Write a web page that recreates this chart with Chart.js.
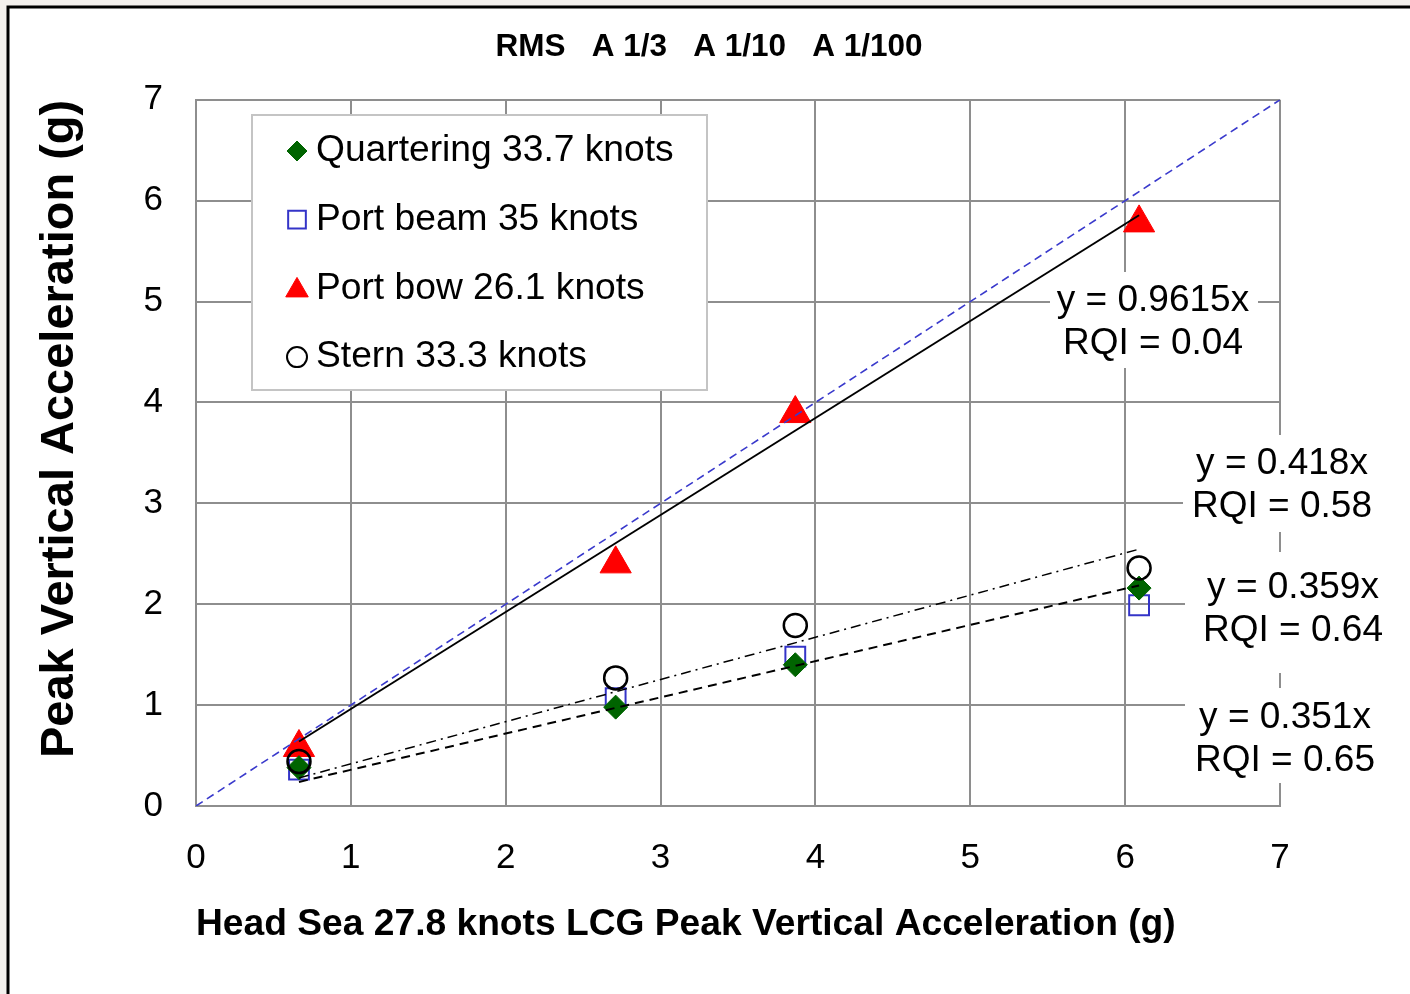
<!DOCTYPE html>
<html><head><meta charset="utf-8">
<script src="https://cdn.jsdelivr.net/npm/chart.js@4.4.0/dist/chart.umd.min.js"></script>
<style>html,body{margin:0;padding:0;background:#f4f1ee;overflow:hidden}</style>
</head><body>
<canvas id="c" width="1410" height="994" style="display:block;width:1410px;height:994px"></canvas>
<script>
// ---- data ----
const headSeaX   = [0.665, 2.71, 3.87, 6.09];
const quartering = [0.38, 0.98, 1.40, 2.16];
const portBeam   = [0.36, 1.07, 1.48, 1.99];
const portBow    = [0.58, 2.40, 3.89, 5.78];
const stern      = [0.44, 1.27, 1.79, 2.36];
const seriesLabels = ['Quartering 33.7 knots', 'Port beam 35 knots', 'Port bow 26.1 knots', 'Stern 33.3 knots'];
const fitSlopes = [0.359, 0.351, 0.9615, 0.418];
const fitRQI    = [0.64, 0.65, 0.04, 0.58];
const axisTicks = [0, 1, 2, 3, 4, 5, 6, 7];
const chartTitle = 'RMS   A 1/3   A 1/10   A 1/100';
const xTitle = 'Head Sea 27.8 knots LCG Peak Vertical Acceleration (g)';
const yTitle = 'Peak Vertical Acceleration (g)';

// ---- styling / layout ----
const FONT = 'Liberation Sans, Arial, sans-serif';
Chart.defaults.font.family = FONT;
Chart.defaults.color = '#000';
const GRID = '#8e8e8e';
const fitLabelBoxes = [
  {cx: 1293, cy: 609, bx: 1185, by: 552, bw: 212, bh: 121},
  {cx: 1285, cy: 739, bx: 1185, by: 688, bw: 200, bh: 95},
  {cx: 1153, cy: 322, bx: 1050, by: 272, bw: 208, bh: 96},
  {cx: 1282, cy: 485, bx: 1183, by: 435, bw: 197, bh: 97}
];
const legendBox = {x: 252, y: 115, w: 455, h: 275, firstY: 151, step: 68.7, markerX: 297, textX: 316};

const pts = arr => headSeaX.map((x, i) => ({x: x, y: arr[i]}));
const xMin = Math.min(...headSeaX), xMax = Math.max(...headSeaX);
const fitLine = slope => [{x: xMin, y: slope * xMin}, {x: xMax, y: slope * xMax}];
const lo = axisTicks[0], hi = axisTicks[axisTicks.length - 1];

const series = [
  {label: seriesLabels[0], data: pts(quartering), pointStyle: 'rectRot', pointRadius: 12,
   backgroundColor: '#006400', borderColor: '#006400', borderWidth: 1, order: 2, legendR: 10},
  {label: seriesLabels[1], data: pts(portBeam), pointStyle: 'rect', pointRadius: 14,
   backgroundColor: 'rgba(0,0,0,0)', borderColor: '#3434c8', borderWidth: 2, order: 3, legendR: 12.5},
  {label: seriesLabels[2], data: pts(portBow), pointStyle: 'triangle', pointRadius: 18,
   backgroundColor: '#ff0000', borderColor: '#ff0000', borderWidth: 1, order: 4, legendR: 13},
  {label: seriesLabels[3], data: pts(stern), pointStyle: 'circle', pointRadius: 11.5,
   backgroundColor: 'rgba(0,0,0,0)', borderColor: '#000', borderWidth: 2.5, order: 1, legendR: 10}
];
series.forEach(s => { s.showLine = false; s.pointHoverRadius = s.pointRadius; s.isSeries = true; });

const lines = [
  {data: [{x: lo, y: lo}, {x: hi, y: hi}], borderColor: '#3a3acc', borderWidth: 1.6, borderDash: [8, 5]},
  {data: fitLine(fitSlopes[2]), borderColor: '#000', borderWidth: 2, borderDash: []},
  {data: fitLine(fitSlopes[3]), borderColor: '#000', borderWidth: 1.5, borderDash: [10, 5, 2, 5]},
  {data: fitLine(fitSlopes[0]), borderColor: '#000', borderWidth: 2, borderDash: [9, 6]}
];
lines.forEach(l => { l.showLine = true; l.pointRadius = 0; l.pointHoverRadius = 0; l.fill = false; l.order = 0; l.label = ''; });

function drawMarker(ctx, style, x, y, r, fill, stroke, lw) {
  ctx.save();
  ctx.beginPath();
  if (style === 'rectRot') {
    ctx.moveTo(x, y - r); ctx.lineTo(x + r, y); ctx.lineTo(x, y + r); ctx.lineTo(x - r, y); ctx.closePath();
  } else if (style === 'rect') {
    const s = r * Math.SQRT1_2; ctx.rect(x - s, y - s, 2 * s, 2 * s);
  } else if (style === 'triangle') {
    ctx.moveTo(x, y - r);
    ctx.lineTo(x + r * Math.sin(2 * Math.PI / 3), y - r * Math.cos(2 * Math.PI / 3));
    ctx.lineTo(x + r * Math.sin(4 * Math.PI / 3), y - r * Math.cos(4 * Math.PI / 3));
    ctx.closePath();
  } else {
    ctx.arc(x, y, r, 0, Math.PI * 2);
  }
  ctx.fillStyle = fill; ctx.fill();
  ctx.lineWidth = lw; ctx.strokeStyle = stroke; ctx.stroke();
  ctx.restore();
}

const framePlugin = {
  id: 'frame',
  beforeDraw(chart) {
    const ctx = chart.ctx;
    ctx.save();
    ctx.fillStyle = '#f4f1ee'; ctx.fillRect(0, 0, chart.width, chart.height);
    ctx.fillStyle = '#ffffff'; ctx.fillRect(8, 7, chart.width - 8, chart.height - 7);
    ctx.strokeStyle = '#000'; ctx.lineWidth = 3;
    ctx.beginPath(); ctx.moveTo(8, chart.height); ctx.lineTo(8, 7); ctx.lineTo(chart.width, 7); ctx.stroke();
    ctx.restore();
  }
};

const overlayPlugin = {
  id: 'overlay',
  afterDatasetsDraw(chart) {
    const ctx = chart.ctx;
    ctx.save();
    // fit labels
    ctx.font = '37px ' + FONT;
    ctx.textAlign = 'center'; ctx.textBaseline = 'middle';
    fitSlopes.forEach((s, i) => {
      const b = fitLabelBoxes[i];
      ctx.fillStyle = '#fff'; ctx.fillRect(b.bx, b.by, b.bw, b.bh);
      ctx.fillStyle = '#000';
      ctx.fillText('y = ' + s + 'x', b.cx, b.cy - 21.5);
      ctx.fillText('RQI = ' + fitRQI[i].toFixed(2), b.cx, b.cy + 21.5);
    });
    // legend
    const L = legendBox;
    ctx.fillStyle = '#fff'; ctx.fillRect(L.x, L.y, L.w, L.h);
    ctx.strokeStyle = '#c4c4c4'; ctx.lineWidth = 2; ctx.strokeRect(L.x, L.y, L.w, L.h);
    const ds = chart.data.datasets.filter(d => d.isSeries);
    ds.forEach((d, i) => {
      const y = L.firstY + i * L.step;
      const my = d.pointStyle === 'triangle' ? y + 2 : y;
      drawMarker(ctx, d.pointStyle, L.markerX, my, d.legendR, d.backgroundColor, d.borderColor, d.pointStyle === 'circle' ? 2 : d.borderWidth);
      ctx.fillStyle = '#000'; ctx.textAlign = 'left'; ctx.textBaseline = 'middle';
      ctx.font = '37.2px ' + FONT;
      ctx.fillText(d.label, L.textX, y);
    });
    ctx.restore();
  }
};

new Chart(document.getElementById('c'), {
  type: 'scatter',
  data: {datasets: [...lines, ...series]},
  options: {
    responsive: false, animation: false, devicePixelRatio: 1,
    layout: {padding: {top: 7, left: 8, right: 0, bottom: 0}},
    plugins: {
      legend: {display: false}, tooltip: {enabled: false},
      title: {display: true, text: chartTitle, color: '#000',
              font: {family: FONT, size: 31.5, weight: 'bold', lineHeight: 1.2},
              padding: {top: 21, bottom: 34}}
    },
    scales: {
      x: {
        type: 'linear', min: lo, max: hi,
        afterBuildTicks: s => { s.ticks = axisTicks.map(v => ({value: v})); },
        afterFit: s => { s.height = 188; },
        grid: {color: GRID, lineWidth: 2, drawTicks: false},
        border: {color: GRID, width: 2},
        ticks: {font: {size: 35}, color: '#000', padding: 31},
        title: {display: true, text: xTitle, align: 'start', color: '#000',
                font: {size: 37.2, weight: 'bold', lineHeight: 1.2}, padding: {top: 0, bottom: 47}}
      },
      y: {
        type: 'linear', min: lo, max: hi,
        afterBuildTicks: s => { s.ticks = axisTicks.map(v => ({value: v})); },
        afterFit: s => { s.width = 188; },
        grid: {color: GRID, lineWidth: 2, drawTicks: false},
        border: {color: GRID, width: 2},
        ticks: {font: {size: 35}, color: '#000', padding: 33},
        title: {display: true, text: yTitle, align: 'end', color: '#000',
                font: {size: 47, weight: 'bold', lineHeight: 1.2}, padding: {top: 24, bottom: 0}}
      },
      yRight: {
        type: 'linear', position: 'right', min: lo, max: hi,
        afterFit: s => { s.width = 130; },
        grid: {display: false, drawOnChartArea: false},
        border: {display: false},
        ticks: {display: false}
      }
    }
  },
  plugins: [framePlugin, overlayPlugin]
});
</script>
</body></html>
